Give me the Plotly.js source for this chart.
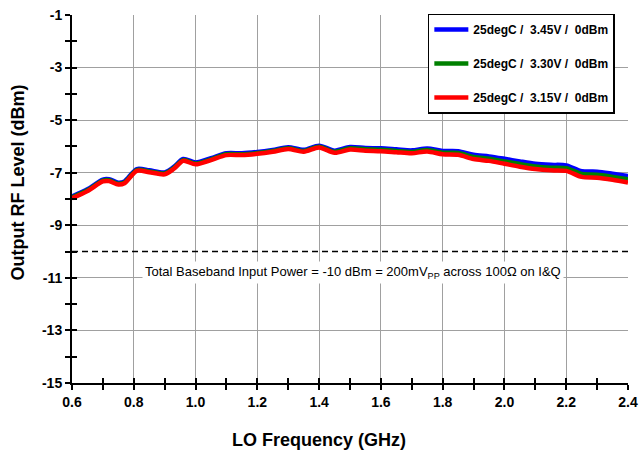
<!DOCTYPE html>
<html><head><meta charset="utf-8">
<script src="https://cdn.plot.ly/plotly-3.0.1.min.js"></script>
<style>html,body{margin:0;padding:0;background:#fff}#chart{width:639px;height:452px}</style>
</head><body><div id="chart"></div>
<script>
var freq = [0.60,0.65,0.70,0.72,0.75,0.77,0.81,0.85,0.90,0.93,0.96,1.00,1.05,1.10,1.15,1.20,1.25,1.30,1.35,1.40,1.45,1.50,1.55,1.60,1.65,1.70,1.75,1.80,1.85,1.90,1.95,2.00,2.05,2.10,2.15,2.20,2.25,2.30,2.35,2.40];
var v345 = [-7.90,-7.63,-7.26,-7.25,-7.38,-7.33,-6.86,-6.91,-6.99,-6.78,-6.48,-6.61,-6.45,-6.26,-6.26,-6.21,-6.13,-6.03,-6.13,-5.97,-6.16,-6.02,-6.06,-6.07,-6.11,-6.15,-6.08,-6.17,-6.18,-6.32,-6.38,-6.47,-6.57,-6.66,-6.70,-6.72,-6.94,-6.96,-7.04,-7.13];
var v330 = [-7.94,-7.67,-7.30,-7.29,-7.42,-7.37,-6.90,-6.95,-7.03,-6.82,-6.52,-6.65,-6.49,-6.30,-6.30,-6.25,-6.17,-6.07,-6.17,-6.01,-6.20,-6.07,-6.11,-6.13,-6.17,-6.21,-6.14,-6.24,-6.25,-6.40,-6.47,-6.57,-6.67,-6.76,-6.81,-6.83,-7.05,-7.08,-7.16,-7.25];
var v315 = [-7.97,-7.70,-7.33,-7.32,-7.45,-7.40,-6.93,-6.98,-7.06,-6.85,-6.55,-6.68,-6.52,-6.33,-6.33,-6.28,-6.20,-6.10,-6.20,-6.04,-6.24,-6.12,-6.16,-6.18,-6.22,-6.26,-6.19,-6.30,-6.32,-6.48,-6.55,-6.66,-6.77,-6.86,-6.91,-6.93,-7.16,-7.19,-7.27,-7.37];
var seriesNames = ["25degC /  3.45V /  0dBm","25degC /  3.30V /  0dBm","25degC /  3.15V /  0dBm"];
var yTickVals = [-15,-13,-11,-9,-7,-5,-3,-1];
var yTickText = ["-15","-13","-11","-9","-7","-5","-3","-1"];
var xTickVals = [0.6,0.8,1.0,1.2,1.4,1.6,1.8,2.0,2.2,2.4];
var xTickText = ["0.6","0.8","1.0","1.2","1.4","1.6","1.8","2.0","2.2","2.4"];
var refX = [0.6, 2.4];
var refY = [-10, -10];
var noteText = "Total Baseband Input Power = -10 dBm = 200mV<sub>PP</sub> across 100Ω on I&amp;Q";
var xTitle = "LO Frequency (GHz)";
var yTitle = "Output RF Level (dBm)";

var FAM = "Liberation Sans, Arial, sans-serif";
var bold = {family:FAM, size:14, color:"#000", weight:"bold"};
var titleFont = {family:FAM, size:18, color:"#000", weight:"bold"};
var colors = ["#0000ff","#008000","#ff0000"];
var vals = [v345, v330, v315];
var traces = vals.map(function(v,i){
  return {x:freq, y:v, type:"scatter", mode:"lines", name:seriesNames[i],
    line:{color:colors[i], width:4.5, shape:"spline", smoothing:0.8},
    legendgroup:"g"+i};
});
traces.push({x:refX, y:refY, xaxis:"x2", yaxis:"y2", type:"scatter", mode:"lines",
  line:{color:"#000", width:1.5, dash:"6px,4px"}, showlegend:false, hoverinfo:"skip"});

var axCommonX = {range:[0.6,2.4], tickmode:"array", tickvals:xTickVals};
var axCommonY = {range:[-15,-1], tickmode:"array", tickvals:yTickVals};
var layout = {
  width:639, height:452,
  margin:{l:72, r:11, t:15, b:69},
  paper_bgcolor:"#fff", plot_bgcolor:"#fff",
  showlegend:true,
  font:{family:FAM},
  xaxis:Object.assign({}, axCommonX, {
    ticktext:xTickText,
    showgrid:true, gridcolor:"#a0a0a0", gridwidth:1,
    showline:true, linecolor:"#000", linewidth:2,
    ticks:"outside", ticklen:5, tickwidth:2, tickcolor:"#000",
    tickfont:bold, zeroline:false,
    minor:{dtick:0.1, tick0:0.6, ticks:"outside", ticklen:5, tickwidth:2, tickcolor:"#000", showgrid:false}
  }),
  yaxis:Object.assign({}, axCommonY, {
    ticktext:yTickText,
    showgrid:true, gridcolor:"#a0a0a0", gridwidth:1,
    showline:true, linecolor:"#000", linewidth:2,
    ticks:"outside", ticklen:5, tickwidth:2, tickcolor:"#000",
    tickfont:bold, zeroline:false,
    minor:{dtick:1, tick0:-1, ticks:"outside", ticklen:5, tickwidth:2, tickcolor:"#000", showgrid:false}
  }),
  xaxis2:Object.assign({}, axCommonX, {overlaying:"x", anchor:"y2", side:"bottom",
    showgrid:false, showline:false, zeroline:false, showticklabels:false,
    ticks:"inside", ticklen:5, tickwidth:2, tickcolor:"#000",
    minor:{dtick:0.1, tick0:0.6, ticks:"inside", ticklen:5, tickwidth:2, tickcolor:"#000", showgrid:false}}),
  yaxis2:Object.assign({}, axCommonY, {overlaying:"y", anchor:"x2", side:"left",
    showgrid:false, showline:false, zeroline:false, showticklabels:false,
    ticks:"inside", ticklen:5, tickwidth:2, tickcolor:"#000",
    minor:{dtick:1, tick0:-1, ticks:"inside", ticklen:5, tickwidth:2, tickcolor:"#000", showgrid:false}}),
  legend:{x:0.64, y:1.004, xanchor:"left", yanchor:"top",
    bgcolor:"#fff", bordercolor:"#000", borderwidth:1.5,
    font:{family:FAM, size:12, color:"#000", weight:"bold"},
    traceorder:"grouped", tracegroupgap:15, itemwidth:34},
  annotations:[
    {x:1.51, y:-10.78, xref:"x", yref:"y", text:noteText, showarrow:false,
      bgcolor:"#fff", borderpad:2,
      font:{family:FAM, size:13, color:"#000"}},
    {x:0.444, y:0, xref:"paper", yref:"paper", yshift:-57, text:xTitle, showarrow:false,
      xanchor:"center", yanchor:"middle", font:titleFont},
    {x:0, y:0.545, xref:"paper", yref:"paper", xshift:-54, text:yTitle, showarrow:false,
      textangle:-90, xanchor:"center", yanchor:"middle", font:titleFont}
  ]
};
Plotly.newPlot("chart", traces, layout, {staticPlot:true, displayModeBar:false});
</script></body></html>
